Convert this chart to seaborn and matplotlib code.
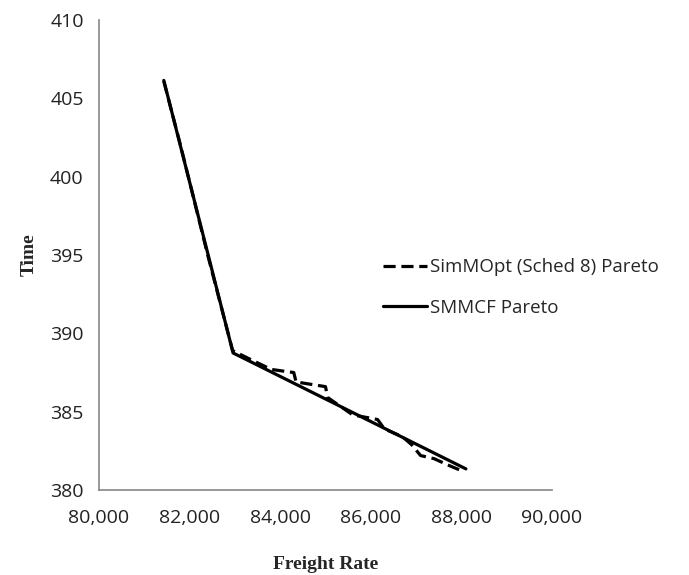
import pandas as pd
import matplotlib
matplotlib.use("Agg")
import matplotlib.pyplot as plt
import seaborn as sns

# data
smmcf_rate = [81430, 82960, 88100]
smmcf_time = [406.15, 388.75, 381.35]

simmopt_rate = [81430, 81800, 82400, 82950, 83300, 83800, 84300, 84350, 85000, 85050,
                85600, 86150, 86300, 86700, 86900, 87100, 87400, 87700, 88030]
simmopt_time = [406.1, 402.0, 395.0, 388.9, 388.4, 387.7, 387.5, 386.9, 386.6, 385.9,
                384.8, 384.5, 383.9, 383.4, 382.9, 382.2, 382.0, 381.6, 381.2]

x_ticks = [80000, 82000, 84000, 86000, 88000, 90000]
y_ticks = [380, 385, 390, 395, 400, 405, 410]

sim_df = pd.DataFrame({'rate': simmopt_rate, 'time': simmopt_time})
smm_df = pd.DataFrame({'rate': smmcf_rate, 'time': smmcf_time})

sns.set_style("white")
plt.rcParams['font.family'] = ['Open Sans', 'DejaVu Sans']

fig = plt.figure(figsize=(6.89, 5.75), dpi=100)
ax = fig.add_axes([0.1437, 0.1478, 0.8011 - 0.1437, 0.965 - 0.1478])

sns.lineplot(x='rate', y='time', data=sim_df, sort=False, ax=ax, color='black',
             linewidth=2.3, label='SimMOpt (Sched 8) Pareto')
ax.lines[-1].set_dashes([3.8, 1.8])
sns.lineplot(x='rate', y='time', data=smm_df, sort=False, ax=ax, color='black',
             linewidth=2.3, label='SMMCF Pareto')

ax.set_xlim(80000, 90000)
ax.set_ylim(380, 410)
ax.set_xticks(x_ticks)
ax.set_xticklabels([f"{v:,}" for v in x_ticks])
ax.set_yticks(y_ticks)

for s in ['top', 'right']:
    ax.spines[s].set_visible(False)
for s in ['left', 'bottom']:
    ax.spines[s].set_color('#868686')
    ax.spines[s].set_linewidth(1.2)
ax.tick_params(axis='both', which='major', direction='out', length=6, width=1.2,
               color='#868686', labelsize=14, labelcolor='#222222', pad=5)
ax.tick_params(axis='x', pad=8)

ax.set_xlabel('Freight Rate', family='Liberation Serif', fontweight='bold', fontsize=14)
ax.set_ylabel('Time', family='Liberation Serif', fontweight='bold', fontsize=14)
ax.xaxis.set_label_coords(0.5, -0.14)
ax.yaxis.set_label_coords(-0.135, 0.5)

leg = ax.legend(loc='center left', bbox_to_anchor=(0.532, 0.45, 0.5, 0.1),
                bbox_transform=fig.transFigure, frameon=False, fontsize=13.5,
                handlelength=2.3, handletextpad=0.2, labelspacing=1.2)

fig.savefig('out.png', dpi=100)
